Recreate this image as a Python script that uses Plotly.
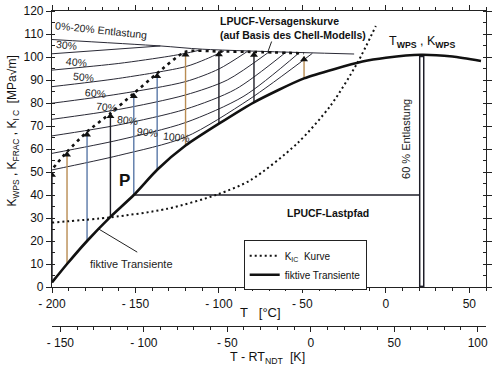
import plotly.graph_objects as go

FONT = "Liberation Sans, Arial, sans-serif"
DARK = "#1e1e28"
TAN = "#b98c52"
BLUE = "#5a78a8"

# ---------------- data ----------------
RT_NDT = -45  # °C, offset of the secondary axis  T - RT_NDT

# fiktive Transiente
trans_T = [-200, -191, -179, -165, -151, -137, -120, -100, -79, -49, -14, 0, 21, 40, 57]
trans_K = [2, 10, 20, 30.5, 40, 51, 61.5, 71, 80.3, 90.7, 98, 99.7, 101, 100.2, 98.3]

# K_IC curve
kic_T = [-200, -165, -131, -101, -81, -53, -33, -17, -6]
kic_K = [28, 30.3, 34, 40.2, 46.5, 62.5, 79, 97.5, 113.5]

# LPUCF failure curve (dotted, through arrow tips)
lpucf_T = [-199, -191, -179, -165, -151, -137, -120, -100, -79, -49]
lpucf_K = [52, 58.8, 67.5, 75.5, 84.2, 92.9, 102.3, 102.4, 102.2, 101.6]

# upper envelope: 0%-20% unloading line and 30% line
top_T = [-200, -135, -110, -19]
top_K = [107.6, 104.8, 103.4, 101.3]
u30_T = [-200, -135]
u30_K = [101.4, 104.8]

# unloading curves 40% ... 100%
fam_labels = ["40%", "50%", "60%", "70%", "80%", "90%", "100%"]
fam_T = [
    [-200, -160, -130, -120, -112],
    [-200, -160, -120, -108, -97],
    [-200, -160, -120, -100, -83],
    [-200, -160, -120, -95, -70],
    [-200, -160, -120, -90, -60],
    [-200, -160, -120, -85, -52],
    [-200, -160, -120, -82, -44],
]
fam_K = [
    [94.3, 97.2, 100.3, 101.6, 102.9],
    [87.1, 90.7, 95.8, 99.0, 102.6],
    [79.9, 83.9, 89.3, 94.8, 102.4],
    [72.9, 77.2, 83.5, 90.0, 102.2],
    [65.7, 70.5, 77.3, 86.0, 102.0],
    [58.1, 63.9, 71.5, 83.0, 101.8],
    [50.9, 57.2, 65.2, 81.5, 101.6],
]

# vertical arrows (from transient up to LPUCF curve)
arrow_T = [-200, -191, -179, -165, -151, -137, -120, -100, -79, -49]
arrow_from = [2, 10, 20, 30.5, 40, 51, 61.5, 71, 80.3, 90.7]
arrow_to = [50, 58.8, 67.5, 75.5, 84.2, 92.9, 102.3, 102.4, 102.2, 100.2]
arrow_colors = [DARK, TAN, BLUE, DARK, BLUE, BLUE, TAN, DARK, DARK, TAN]

# load path
wps_T, wps_K = 21.5, 100.5
unload_K = 40          # after 60 % Entlastung
P_T = -151

# labels of the unloading curves
lab_text = ["0%-20% Entlastung", "30%", "40%", "50%", "60%", "70%", "80%", "90%", "100%"]
lab_T = [-199.5, -199, -193, -189, -182, -175, -163, -151, -135]
lab_K = [111.7, 105.2, 98.0, 91.2, 84.5, 78.1, 72.6, 67.5, 65.1]

x_ticks = [-200, -150, -100, -50, 0, 50]
x2_ticks = [-150, -100, -50, 0, 50, 100]
T_range = [-200, 60]
T2_range = [T_range[0] - RT_NDT, T_range[1] - RT_NDT]


def fmt(v):
    return f"- {abs(v)}" if v < 0 else str(v)


fig = go.Figure()

# unloading family
for T, K in zip([top_T, u30_T] + fam_T, [top_K, u30_K] + fam_K):
    fig.add_trace(go.Scatter(x=T, y=K, mode="lines", line=dict(color="#2a2a36", width=1,
                             shape="spline", smoothing=0.8), showlegend=False, hoverinfo="skip"))

# arrows
for T, a, b, c in zip(arrow_T, arrow_from, arrow_to, arrow_colors):
    fig.add_trace(go.Scatter(x=[T, T], y=[a, b], mode="lines", line=dict(color=c, width=1.4),
                             showlegend=False, hoverinfo="skip"))
fig.add_trace(go.Scatter(x=arrow_T, y=[v - 1.3 for v in arrow_to], mode="markers",
                         marker=dict(symbol="triangle-up", size=7, color="#111"),
                         showlegend=False, hoverinfo="skip"))

# LPUCF dotted curve
fig.add_trace(go.Scatter(x=lpucf_T, y=lpucf_K, mode="lines",
                         line=dict(color="#111", width=2.6, dash="3px,4px", shape="spline", smoothing=0.6),
                         showlegend=False, hoverinfo="skip"))

# load path (60 % unloading and cooling)
fig.add_trace(go.Scatter(x=[P_T, wps_T], y=[unload_K, unload_K], mode="lines",
                         line=dict(color=DARK, width=1.5), showlegend=False, hoverinfo="skip"))
fig.add_trace(go.Scatter(x=[wps_T, wps_T], y=[wps_K, 0], mode="lines",
                         line=dict(color=DARK, width=5.5), showlegend=False, hoverinfo="skip"))
fig.add_trace(go.Scatter(x=[wps_T, wps_T], y=[wps_K - 0.6, 0.6], mode="lines",
                         line=dict(color="white", width=2.6), showlegend=False, hoverinfo="skip"))

# K_IC and transient
fig.add_trace(go.Scatter(x=kic_T, y=kic_K, mode="lines", name="K<sub>IC</sub>  Kurve",
                         line=dict(color="#111", width=2, dash="2px,3px", shape="spline", smoothing=0.8)))
fig.add_trace(go.Scatter(x=trans_T, y=trans_K, mode="lines", name="fiktive Transiente",
                         line=dict(color="#111", width=2.6, shape="spline", smoothing=0.6)))

# secondary temperature axis (T - RT_NDT), invisible carrier trace
fig.add_trace(go.Scatter(x=T2_range, y=[None, None], xaxis="x2", mode="lines",
                         showlegend=False, hoverinfo="skip"))

ann = []
for t, x, y in zip(lab_text, lab_T, lab_K):
    ann.append(dict(x=x, y=y, text=t, showarrow=False, xanchor="left", yanchor="middle",
                    textangle=6, font=dict(size=10.5, color="#222")))

ann += [
    dict(x=-100.5, y=112.5, text="<b>LPUCF-Versagenskurve<br>(auf Basis des Chell-Modells)</b>",
         showarrow=False, xanchor="left", yanchor="middle", align="left",
         font=dict(size=10.5, color="#111")),
    dict(x=-70.5, y=102.6, ax=4, ay=-11, text="", showarrow=True, arrowhead=0, arrowwidth=1,
         arrowcolor="#222"),
    dict(x=wps_T, y=106.7, text="T<sub><b>WPS</b></sub> , K<sub><b>WPS</b></sub>", showarrow=False,
         xanchor="center", yanchor="middle", font=dict(size=12.5, color="#111")),
    dict(x=12, y=64.3, text="60 % Entlastung", textangle=-90, showarrow=False,
         xanchor="center", yanchor="middle", font=dict(size=11, color="#222")),
    dict(x=-34.5, y=32, text="<b>LPUCF-Lastpfad</b>", showarrow=False,
         xanchor="center", yanchor="middle", font=dict(size=10.5, color="#111")),
    dict(x=-156.7, y=46.5, text="<b>P</b>", showarrow=False, xanchor="center", yanchor="middle",
         font=dict(size=17, color="#111")),
    dict(x=-152.5, y=10, text="fiktive Transiente", showarrow=False, xanchor="center",
         yanchor="middle", font=dict(size=11, color="#222")),
    dict(x=-172, y=25.2, ax=40, ay=24, text="", showarrow=True, arrowhead=0, arrowwidth=1,
         arrowcolor="#222"),
    dict(x=-75, y=0.042, xref="x", yref="paper", text="T\u00a0\u00a0\u00a0[°C]", showarrow=False,
         xanchor="center", yanchor="middle", font=dict(size=13, color="#111")),
    dict(x=-71, y=-0.1, xref="x", yref="paper",
         text="T - RT<sub>NDT</sub>\u00a0\u00a0[K]", showarrow=False,
         xanchor="center", yanchor="middle", font=dict(size=12.5, color="#111")),
    dict(x=-0.0887, y=0.619, xref="paper", yref="paper", textangle=-90, showarrow=False,
         xanchor="center", yanchor="middle",
         text="K<sub>WPS</sub> , K<sub>FRAC</sub> , K<sub>I C</sub>\u00a0\u00a0[MPa√m]",
         font=dict(size=12, color="#111")),
]

axis_common = dict(showline=True, linecolor="#222", linewidth=1.2, showgrid=False, zeroline=False,
                   tickcolor="#222", tickfont=dict(size=12, color="#111"), automargin=False)

fig.update_layout(
    template="none",
    width=499, height=367,
    margin=dict(l=52, r=13, t=11, b=41, autoexpand=False),
    paper_bgcolor="white", plot_bgcolor="white",
    font=dict(family=FONT, color="#111"),
    xaxis=dict(range=T_range, tickmode="array", tickvals=x_ticks, ticktext=[fmt(v) for v in x_ticks],
               ticks="outside", ticklen=5, mirror="ticks",
               minor=dict(tickmode="linear", tick0=0, dtick=10, ticks="outside", ticklen=3,
                          tickcolor="#222"),
               **axis_common),
    xaxis2=dict(range=T2_range, overlaying="x", anchor="free",
                position=0, side="bottom", tickmode="array", tickvals=x2_ticks,
                ticktext=[fmt(v) for v in x2_ticks], ticks="outside", ticklen=5,
                minor=dict(tickmode="linear", tick0=0, dtick=10, ticks="outside", ticklen=3,
                           tickcolor="#222"),
                **axis_common),
    yaxis=dict(range=[0, 120], domain=[0.1238, 1], tickmode="linear", tick0=0, dtick=10,
               ticks="outside", ticklen=5, mirror="ticks",
               minor=dict(dtick=5, ticks="inside", ticklen=3, tickcolor="#222"),
               **axis_common),
    legend=dict(x=0.4417, y=0.272, xanchor="left", yanchor="top", bgcolor="white",
                bordercolor="#222", borderwidth=1, font=dict(size=10, color="#111"),
                itemwidth=30, tracegroupgap=0),
    annotations=ann,
    showlegend=True,
)

fig.write_html("out.html", config={"displayModeBar": False},
               post_script="document.body.style.margin='0';")
